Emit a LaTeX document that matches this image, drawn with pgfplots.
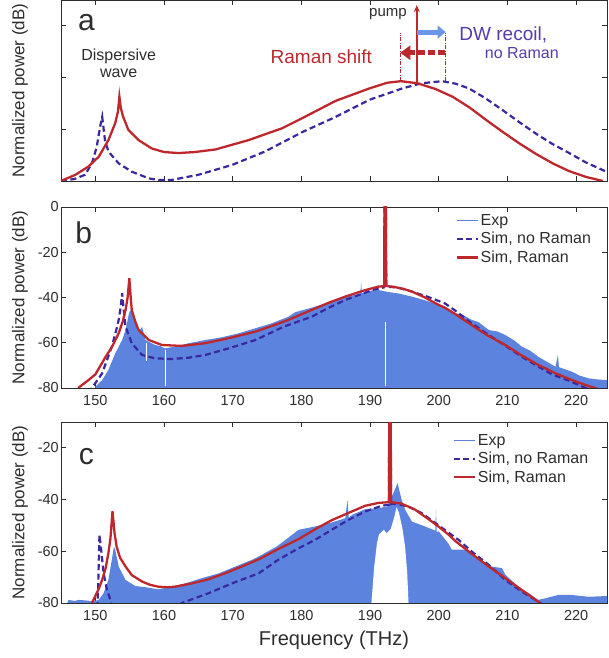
\documentclass[border=0pt]{standalone}
\usepackage{fontspec}
\setmainfont{Liberation Sans}
\usepackage{pgfplots}
\pgfplotsset{compat=1.18}
\usetikzlibrary{arrows.meta}

\definecolor{ramanred}{RGB}{190,40,45}
\definecolor{simblue}{RGB}{58,40,160}
\definecolor{expblue}{RGB}{92,132,222}
\definecolor{axgray}{RGB}{45,45,45}
\definecolor{txtblue}{RGB}{85,60,175}
\definecolor{arrblue}{RGB}{105,150,230}

\pgfplotsset{
  panel/.style={
    scale only axis, width=546pt, height=181pt, anchor=south west,
    xmin=145, xmax=224.5, xtick={150,160,...,220},
    xticklabels={150,160,170,180,190,200,210,220},
    tick align=inside, major tick length=5pt,
    axis line style={axgray, line width=0.9pt},
    every tick/.style={axgray, line width=0.9pt},
    tick label style={font=\fontsize{14.5}{16}\selectfont, text=axgray, inner sep=2pt},
    xticklabel style={yshift=-5pt},
    ylabel={Normalized power (dB)},
    ylabel style={font=\fontsize{17}{20}\selectfont, text=axgray,
      at={(axis description cs:-0.075,0.5)}, anchor=center},
    legend style={draw=none, fill=none, anchor=north west,
      font=\fontsize{16}{18}\selectfont, text=axgray,
      row sep=1.5pt, inner sep=0pt},
    legend cell align=left,
    legend image code/.code={\draw[##1] (0pt,0pt) -- (21pt,0pt);},
  },
  raman/.style={ramanred, line width=2.3pt},
  noraman/.style={simblue, line width=2.2pt, dash pattern=on 6pt off 3.5pt},
  exp/.style={fill=expblue, draw=none},
}

\begin{document}
\begin{tikzpicture}
\useasboundingbox (0,0) rectangle (608pt,658pt);

% ---------------- panel a ----------------
\begin{axis}[panel, at={(61pt,477pt)}, ymin=0, ymax=3.5,
  ytick={1,2,3}, yticklabels={}, xticklabels={}]
\addplot[noraman] coordinates {
(145,0) (147,0.04) (148.5,0.12) (149.5,0.34) (150.2,0.66) (150.7,1.05) (151.0,1.24)
(151.4,0.79) (151.9,0.57) (153.4,0.34) (155.3,0.18) (157.8,0.05) (159.2,0.02)
(161.1,0.02) (165,0.12) (169.9,0.31) (174.7,0.57) (180.2,0.95) (185,1.24)
(189.9,1.57) (194.7,1.79) (197.5,1.89) (200.5,1.93) (202.5,1.88) (204.4,1.79)
(206.8,1.6) (209.3,1.37) (211.7,1.14) (214.1,0.92) (216.5,0.72) (219,0.54)
(221.4,0.36) (223.9,0.21) (224.5,0.17)};
\addplot[raman] coordinates {
(145,0) (147.1,0.12) (149.0,0.28) (150.5,0.47) (151.9,0.79) (152.9,1.12)
(153.3,1.35) (153.5,1.63) (153.7,1.42) (154.0,1.26) (154.8,0.99) (156.3,0.79)
(158.2,0.63) (160,0.56) (162.1,0.54) (164.5,0.56) (167.5,0.61) (172.3,0.79)
(177.2,1.02) (180.2,1.22) (185,1.55) (189.9,1.79) (192.5,1.9) (194.5,1.93)
(196.9,1.89) (199.5,1.78) (202,1.63) (204.5,1.42) (206.9,1.18) (209.3,0.95)
(211.7,0.73) (214.2,0.52) (216.6,0.34) (219,0.19) (221.4,0.08) (223.9,0)};
% annotations
\node[font=\fontsize{30}{30}\selectfont, text=axgray] at (axis cs:148.7,3.06) {a};
\node[font=\fontsize{16}{18}\selectfont, text=axgray, align=center] at (axis cs:153.4,2.27)
  {Dispersive\\[-1pt]wave};
\node[font=\fontsize{15}{18}\selectfont, text=axgray] at (axis cs:192.6,3.22) {pump};
\draw[ramanred, line width=0.8pt, dash pattern=on 4pt off 1.5pt on 1pt off 1.5pt]
  (axis cs:194.4,1.93) -- (axis cs:194.4,2.86);
\draw[txtblue, line width=0.8pt, dash pattern=on 4pt off 1.5pt on 1pt off 1.5pt]
  (axis cs:200.9,1.93) -- (axis cs:200.9,2.86);
\draw[ramanred, line width=2pt, -{Stealth[length=7pt,width=6pt]}]
  (axis cs:196.8,1.9) -- (axis cs:196.8,3.4);
\draw[ramanred, line width=4.5pt, dash pattern=on 7pt off 3pt,
  -{Triangle[length=10pt,width=14pt]}]
  (axis cs:200.9,2.48) -- (axis cs:194.4,2.48);
\draw[arrblue, line width=5pt, -{Triangle[length=8pt,width=13pt]}]
  (axis cs:196.9,2.88) -- (axis cs:201.0,2.88);
\node[font=\fontsize{19}{22}\selectfont, text=ramanred, anchor=east]
  at (axis cs:190.8,2.40) {Raman shift};
\node[font=\fontsize{19}{22}\selectfont, text=txtblue, anchor=west]
  at (axis cs:202.5,2.82) {DW recoil,};
\node[font=\fontsize{16}{18}\selectfont, text=txtblue, anchor=west]
  at (axis cs:206.2,2.47) {no Raman};
\end{axis}

% ---------------- panel b ----------------
\begin{axis}[panel, at={(61pt,270pt)}, ymin=-80, ymax=0,
  ytick={-80,-60,-40,-20,0}, yticklabels={-80,-60,-40,-20,0},
  legend style={at={(axis description cs:0.722,0.972)}}]
\addlegendimage{expblue, line width=1.8pt}
\addlegendentry{Exp}
\addlegendimage{noraman}
\addlegendentry{Sim, no Raman}
\addlegendimage{raman}
\addlegendentry{Sim, Raman}
\addplot[exp, forget plot] coordinates {
(150.0,-80) (150.0,-79.4) (151.0,-76.5) (151.9,-72) (152.9,-64.7) (153.9,-58.8)
(154.4,-54.4) (154.9,-47.0) (155.1,-45.5) (155.6,-49.2) (156.3,-55.1) (156.8,-53)
(157.3,-58.8) (158.7,-61) (159.5,-61.5) (160.1,-62.5) (161.6,-61.7) (163.6,-60.2)
(166.0,-58.8) (168.4,-57.6) (170.9,-55.8) (173.3,-53.6) (175.7,-51.4) (178.1,-48.5)
(179.1,-46.5) (181.5,-44.5) (184.0,-42.2) (186.4,-39.8) (188.6,-38.3) (188.7,-33.0)
(188.8,-38.1) (190.3,-36.9) (191.2,-36.7) (192.7,-37.6) (194.1,-38.2) (196.1,-39.6)
(197.5,-40.8) (199.5,-42.6) (200.9,-44.3) (202.4,-47.0) (203.4,-47.5) (204.8,-49.9)
(205.8,-50.9) (207.3,-54.4) (208.5,-55) (209.7,-56.6) (211,-59) (212.1,-61.7)
(213.3,-63.5) (214.5,-66.2) (215.8,-68.5) (217.0,-70.6) (217.35,-65.4) (217.5,-70.8)
(219.4,-72.8) (220.5,-74.5) (221.8,-75.7) (223,-76.2) (224.5,-76.5) (224.5,-80)};
\addplot[white, line width=0.9pt, forget plot] coordinates {(157.5,-60) (157.5,-68)};
\addplot[white, line width=0.9pt, forget plot] coordinates {(160.2,-63) (160.2,-79)};
\addplot[white, line width=0.9pt, forget plot] coordinates {(192.3,-51) (192.3,-79)};
\addplot[noraman, forget plot] coordinates {
(148.9,-82) (149.5,-80) (151.0,-73.5) (152.4,-61.7) (153.0,-55) (153.4,-49.9)
(153.7,-44) (153.9,-38.1) (154.15,-46) (154.4,-52.9) (155.3,-60.2) (156.8,-65.4)
(158.7,-66.9) (161.1,-67.2) (163.6,-66.6) (166.0,-65.4) (169.4,-62.5) (173.3,-58.8)
(177.5,-52.8) (181.5,-48.5) (184,-44.5) (186.4,-41.1) (190.3,-36.7) (192.05,-35.5)
(192.1,1) (192.3,1) (192.35,-35.2) (194,-35.6) (196.1,-37.4) (198.5,-39.8)
(200.9,-42.6) (202.5,-46) (204.5,-50.8) (206.5,-55) (209.3,-60.5) (212,-66)
(214.2,-70) (216.5,-74) (219.0,-76.8) (221.8,-80.6)};
\addplot[raman, forget plot] coordinates {
(147.5,-80) (149.0,-76.5) (150,-74) (151.5,-66.2) (152.4,-62) (153.4,-55.8)
(154.0,-50.5) (154.4,-45.5) (154.7,-40) (154.95,-31.5) (155.15,-40) (155.3,-45.5)
(155.8,-50.5) (156.3,-54.4) (157.8,-58.8) (159.7,-61) (162.6,-61.4) (166.0,-60.2)
(169.4,-58.0) (173.3,-55.1) (176.7,-51.5) (178.1,-49.9) (181.5,-45.5) (184,-42.3)
(186.4,-39.6) (189,-37) (191.2,-35.2) (192.05,-35.0) (192.1,1) (192.3,1)
(192.35,-34.9) (193.5,-35.3) (195,-36.3) (196.1,-37.4) (198,-40) (200.0,-43.3)
(200.9,-44.5) (202.5,-47.5) (204.8,-52.2) (207,-56.6) (209.7,-61) (212,-65.5)
(214.5,-69.8) (217,-73.5) (219.4,-76.5) (221.5,-78.8) (223.3,-80.6)};
\node[font=\fontsize{30}{30}\selectfont, text=axgray] at (axis cs:148.3,-11.5) {b};
\end{axis}

% ---------------- panel c ----------------
\begin{axis}[panel, at={(61pt,55pt)}, ymin=-80, ymax=-10,
  ytick={-80,-60,-40,-20}, yticklabels={-80,-60,-40,-20},
  xlabel={Frequency (THz)},
  xlabel style={font=\fontsize{20}{24}\selectfont, text=axgray,
    at={(axis description cs:0.5,0)}, anchor=center, yshift=-37pt},
  legend style={at={(axis description cs:0.717,0.945)}}]
\addlegendimage{expblue, line width=1.8pt}
\addlegendentry{Exp}
\addlegendimage{noraman}
\addlegendentry{Sim, no Raman}
\addlegendimage{raman}
\addlegendentry{Sim, Raman}
\addplot[exp, forget plot] coordinates {
(145.9,-80) (146.1,-78.8) (147.0,-79.2) (147.6,-78.8) (149.0,-79.1) (149.5,-79.5)
(150.5,-78.8) (151.2,-76.2) (151.9,-71.1) (152.4,-63.3) (152.7,-58.2) (152.9,-59.4)
(153.4,-65.9) (154.4,-71.1) (155.8,-73.4) (157.3,-73.9) (159.2,-74.7) (160.7,-73.9)
(163.1,-72.4) (165.5,-70.4) (168.0,-68.5) (170.4,-65.9) (172.8,-63.3) (173.8,-62.0)
(176.5,-58) (179.6,-51.7) (182.0,-50.4) (184.4,-48.9) (186.4,-47.2) (186.7,-40.1)
(186.9,-47) (187.4,-45.9) (189.3,-43.7) (191.2,-43.3) (192.5,-42.7) (193.4,-37.5)
(194.0,-33.6) (194.6,-40.1) (195.1,-43.9) (196.1,-48.5) (198.0,-50.4) (199.5,-52)
(199.6,-43.9) (199.7,-52.5) (200.0,-52.3) (201.4,-57) (201.9,-59.4) (203.9,-59.4)
(205.8,-62.7) (207.7,-65.9) (209.2,-66.5) (209.7,-69.1) (211.6,-73.7) (213.1,-76.2)
(214.5,-78.8) (215.5,-78.2) (217.4,-76.9) (219.4,-76.9) (221.8,-77.6) (224.5,-77.3)
(224.5,-80)};
\addplot[fill=white, draw=none, forget plot] coordinates {
(190.2,-80) (190.6,-66) (191.0,-57) (191.3,-53.5) (192.0,-51.7) (192.4,-53.0)
(193.0,-51.5) (193.5,-47) (193.85,-43) (194.2,-45) (194.7,-51) (195.1,-58.2)
(195.4,-68) (195.6,-80)};
\addplot[noraman, forget plot] coordinates {
(150.3,-82) (150.4,-75) (150.6,-53.6) (150.9,-60.7) (151.2,-68.5) (151.7,-75)
(152.2,-78.8) (152.5,-82)};
\addplot[noraman, forget plot] coordinates {
(162.3,-81) (162.6,-80) (166.5,-76.2) (169.9,-72.4) (173.8,-68.5) (176.5,-63.5)
(179.6,-58.8) (182.0,-55.6) (184.4,-51.7) (186.9,-47.8) (189.3,-44.6) (191.7,-42.4)
(192.75,-42) (192.8,1) (193.0,1) (193.05,-41.7) (193.7,-41.6) (195.6,-42.7)
(197.5,-45.2) (200.5,-51.0) (202.9,-55.6) (204.8,-60.1) (207.3,-65.3) (209.7,-71.1)
(212.1,-75.6) (214.8,-80) (215.2,-81)};
\addplot[raman, forget plot] coordinates {
(149.3,-81) (149.5,-80) (150.5,-74.5) (151.0,-71) (151.5,-66.5) (151.9,-60.7)
(152.2,-55) (152.5,-44.5) (152.8,-53) (153.1,-58.2) (153.6,-62.5) (154.4,-65.9)
(155.3,-69.2) (156.8,-71.7) (158,-73) (159.2,-73.7) (160.5,-73.9) (161.6,-73.7)
(164.1,-72.4) (166.5,-70.8) (168.9,-68.5) (171.3,-65.9) (173.8,-63.1) (176.5,-59.3)
(179.6,-55.3) (182,-51.5) (184.4,-48) (187,-45) (189.3,-42.4) (191.2,-41.3)
(192.75,-41) (192.8,1) (193.0,1) (193.05,-41.0) (194.5,-41.5) (196.5,-43.8)
(199,-48.5) (200.0,-50.5) (201.4,-53.5) (202.4,-56) (204.8,-61) (207.3,-65.9)
(209.7,-70.4) (212.1,-75) (214.5,-79.5) (214.8,-80.5)};
\node[font=\fontsize{30}{30}\selectfont, text=axgray] at (axis cs:148.7,-23.4) {c};
\end{axis}
\end{tikzpicture}
\end{document}
